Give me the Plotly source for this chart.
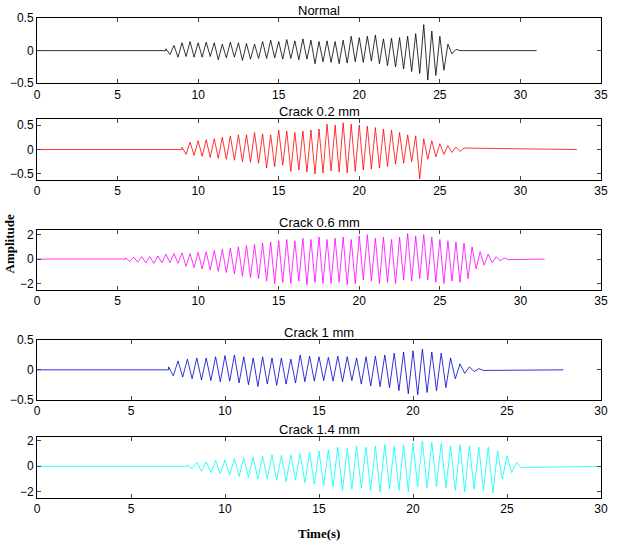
import plotly.graph_objects as go
from plotly.subplots import make_subplots

# peak amplitudes, every 0.25 s from the burst start
step = 0.25

normal_start, normal_end = 8.0, 31.0
normal_amp = [0.03, 0.06, 0.08, 0.1, 0.12, 0.09, 0.14, 0.1, 0.12,
              0.1, 0.13, 0.09, 0.12, 0.14, 0.1, 0.11, 0.13,
              0.1, 0.12, 0.15, 0.11, 0.13, 0.1, 0.12, 0.14,
              0.12, 0.16, 0.11, 0.14, 0.13, 0.17, 0.12, 0.15,
              0.14, 0.18, 0.13, 0.16, 0.2, 0.14, 0.17, 0.15,
              0.18, 0.14, 0.2, 0.16, 0.19, 0.22, 0.17, 0.2,
              0.18, 0.22, 0.16, 0.24, 0.2, 0.18, 0.23, 0.19,
              0.25, 0.2, 0.28, 0.22, 0.32, 0.26, 0.35, 0.4,
              0.45, 0.3, 0.38, 0.22, 0.3, 0.1, 0.05, 0.02, 0.0]

c02_start, c02_end = 9.0, 33.5
c02_amp = [0.05, 0.1, 0.15, 0.12, 0.18, 0.14, 0.2, 0.16,
           0.22, 0.18, 0.25, 0.2, 0.28, 0.22, 0.3, 0.25,
           0.3, 0.26, 0.35, 0.28, 0.32, 0.38, 0.3, 0.35,
           0.4, 0.32, 0.38, 0.45, 0.35, 0.42, 0.38, 0.46,
           0.4, 0.5, 0.42, 0.48, 0.52, 0.44, 0.5, 0.46,
           0.55, 0.48, 0.52, 0.45, 0.5, 0.42, 0.48, 0.4,
           0.45, 0.38, 0.42, 0.35, 0.4, 0.3, 0.35, 0.28,
           0.3, 0.25, 0.28, 0.6, 0.22, 0.2, 0.18, 0.15,
           0.12, 0.1, 0.08, 0.06, 0.05, 0.04, 0.03]

c06_start, c06_end = 5.5, 31.5
c06_amp = [0.1, 0.2, 0.15, 0.25, 0.2, 0.3, 0.2, 0.35, 0.25, 0.3, 0.4, 0.3, 0.45, 0.35,
           0.5, 0.6, 0.45, 0.7, 0.55, 0.8, 0.6, 0.9, 0.7, 1.0, 0.8, 1.1,
           0.9, 1.2, 1.0, 1.4, 1.1, 1.5, 1.2, 1.6, 1.3, 1.8, 1.4, 2.0,
           1.5, 1.9, 1.6, 2.0, 1.5, 1.8, 1.7, 2.1, 1.6, 1.9, 1.8, 2.0,
           1.6, 2.0, 1.7, 1.9, 1.8, 2.1, 1.6, 2.0, 1.9, 1.7, 2.0, 1.8,
           1.7, 2.0, 1.8, 1.9, 1.6, 2.0, 1.8, 1.7, 2.1, 1.8, 1.9, 1.6,
           2.0, 1.7, 1.8, 1.9, 1.6, 2.0, 1.5, 1.8, 1.4, 1.9, 1.3, 1.6,
           1.0, 0.8, 0.6, 0.5, 0.4, 0.3, 0.2, 0.15, 0.1, 0.05]

c1_start, c1_end = 7.0, 28.0
c1_amp = [0.05, 0.1, 0.15, 0.12, 0.18, 0.15, 0.2, 0.17,
          0.2, 0.18, 0.22, 0.2, 0.24, 0.19, 0.25, 0.22,
          0.22, 0.25, 0.2, 0.28, 0.22, 0.24, 0.2, 0.26,
          0.2, 0.24, 0.18, 0.22, 0.25, 0.2, 0.23, 0.19,
          0.22, 0.18, 0.21, 0.19, 0.23, 0.2, 0.22, 0.18,
          0.2, 0.24, 0.22, 0.27, 0.23, 0.28, 0.25, 0.3,
          0.28, 0.35, 0.3, 0.4, 0.32, 0.42, 0.35, 0.38,
          0.3, 0.35, 0.28, 0.3, 0.2, 0.15, 0.1, 0.06,
          0.05, 0.03, 0.02, 0.01]

c14_start, c14_end = 8.0, 30.8
c14_amp = [0.1, 0.2, 0.3, 0.4, 0.35, 0.5, 0.45, 0.6,
           0.5, 0.7, 0.6, 0.8, 0.65, 0.9, 0.7, 1.0,
           0.8, 1.0, 0.9, 1.1, 0.85, 1.2, 0.9, 1.1,
           1.0, 1.3, 1.1, 1.4, 1.2, 1.5, 1.3, 1.6,
           1.5, 1.9, 1.4, 1.8, 1.6, 1.7, 1.5, 1.9,
           1.6, 2.0, 1.7, 1.8, 1.6, 1.9, 1.7, 2.0,
           1.8, 1.6, 2.0, 1.7, 1.9, 1.6, 1.8, 1.7,
           1.6, 1.9, 1.7, 2.0, 1.6, 1.8, 1.5, 1.9,
           1.5, 2.1, 1.2, 1.0, 0.8, 0.5, 0.3, 0.1]

panels = [
    ("Normal", normal_start, normal_end, normal_amp, "black", 35, [-0.5, 0.5], [-0.5, 0, 0.5]),
    ("Crack 0.2 mm", c02_start, c02_end, c02_amp, "red", 35, [-0.62, 0.62], [-0.5, 0, 0.5]),
    ("Crack 0.6 mm", c06_start, c06_end, c06_amp, "#ff00ff", 35, [-2.5, 2.4], [-2, 0, 2]),
    ("Crack 1 mm", c1_start, c1_end, c1_amp, "#0000cc", 30, [-0.5, 0.5], [-0.5, 0, 0.5]),
    ("Crack 1.4 mm", c14_start, c14_end, c14_amp, "cyan", 30, [-2.5, 2.3], [-2, 0, 2]),
]

domains = [[0.864, 1.0], [0.663, 0.789], [0.434, 0.559], [0.205, 0.329], [0.0, 0.127]]

fig = make_subplots(rows=5, cols=1)

for i, (name, t0, t1, amp, color, xmax, yr, yt) in enumerate(panels):
    xs = [0, t0] + [t0 + step * k for k in range(len(amp))] + [t1]
    ys = [0, 0] + [a * (-1) ** k for k, a in enumerate(amp)] + [0]
    fig.add_trace(go.Scatter(x=xs, y=ys, mode="lines",
                             line=dict(color=color, width=0.8),
                             showlegend=False), row=i + 1, col=1)
    n = "" if i == 0 else str(i + 1)
    fig.layout["xaxis" + n].update(
        domain=[0, 1], range=[0, xmax], dtick=5, ticks="inside", ticklen=4,
        showline=True, linecolor="black", mirror="ticks", showgrid=False,
        zeroline=False, automargin=False,
        tickfont=dict(family="Arial", size=12, color="black"))
    fig.layout["yaxis" + n].update(
        domain=domains[i], range=yr, tickvals=yt, ticks="inside", ticklen=4,
        showline=True, linecolor="black", mirror="ticks", showgrid=False,
        zeroline=False, automargin=False,
        tickfont=dict(family="Arial", size=12, color="black"))
    fig.add_annotation(text=name, xref="paper", yref="paper", x=0.5,
                       y=domains[i][1], yanchor="bottom", yshift=-2, showarrow=False,
                       font=dict(family="Arial", size=13, color="black"))

fig.add_annotation(text="<b>Amplitude</b>", xref="paper", yref="paper",
                   x=-0.065, y=0.53, textangle=-90, showarrow=False,
                   font=dict(family="Liberation Serif", size=13, color="black"))
fig.add_annotation(text="<b>Time(s)</b>", xref="paper", yref="paper",
                   x=0.5, y=-0.073, yanchor="middle", showarrow=False,
                   font=dict(family="Liberation Serif", size=13, color="black"))

fig.update_layout(width=638, height=543, margin=dict(l=37, r=37, t=18, b=45),
                  plot_bgcolor="white", paper_bgcolor="white")

fig.write_html("out.html", config={"displayModeBar": False},
               post_script="document.body.style.margin='0';")
